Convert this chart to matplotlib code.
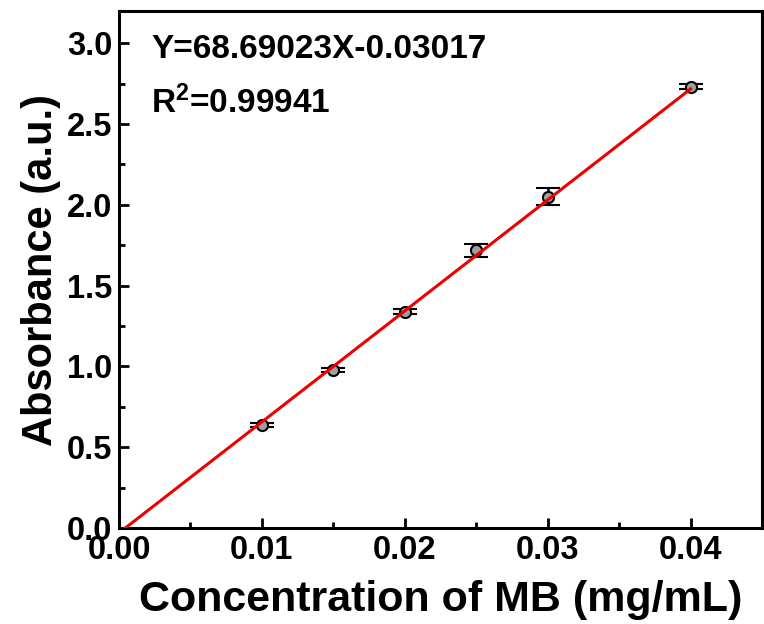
#!/usr/bin/env python3
import matplotlib
matplotlib.use('Agg')
import matplotlib.pyplot as plt
import numpy as np
from matplotlib.ticker import MultipleLocator, FormatStrFormatter

# calibration data
conc = [0.01, 0.015, 0.02, 0.025, 0.03, 0.04]
absorb = [0.637, 0.978, 1.338, 1.718, 2.050, 2.730]
err = [0.012, 0.012, 0.015, 0.040, 0.053, 0.015]
slope = 68.69023
intercept = -0.03017
eq_text = 'Y=68.69023X-0.03017'
r2_text = r'R$^\mathregular{2}$=0.99941'

plt.rcParams['font.family'] = ['Liberation Sans', 'DejaVu Sans']
plt.rcParams['font.weight'] = 'bold'
plt.rcParams['mathtext.default'] = 'regular'

fig = plt.figure(figsize=(7.64, 6.24), dpi=100)
ax = fig.add_axes([0.1558, 0.1538, 0.9974 - 0.1558, 0.9824 - 0.1538])

xfit = np.array([0.0, conc[-1]])
ax.plot(xfit, slope * xfit + intercept, color='#ee0000', lw=2.2, zorder=3)
ax.errorbar(conc, absorb, yerr=err, fmt='o', ms=8, mfc='#a0a0a0', mec='black',
            mew=1.5, ecolor='black', elinewidth=1.8, capsize=8.5, capthick=1.8, zorder=2)

ax.set_xlim(0, 0.045)
ax.set_ylim(0, 3.2)
ax.xaxis.set_major_locator(MultipleLocator(0.01))
ax.xaxis.set_minor_locator(MultipleLocator(0.005))
ax.yaxis.set_major_locator(MultipleLocator(0.5))
ax.yaxis.set_minor_locator(MultipleLocator(0.25))
ax.xaxis.set_major_formatter(FormatStrFormatter('%.2f'))
ax.yaxis.set_major_formatter(FormatStrFormatter('%.1f'))

for s in ax.spines.values():
    s.set_linewidth(2.2)
ax.tick_params(which='major', direction='in', length=7, width=2, labelsize=23.5, pad=5)
ax.tick_params(which='minor', direction='in', length=4, width=2)
ax.tick_params(top=False, right=False, which='both')

ax.set_xlabel('Concentration of MB (mg/mL)', fontsize=31, fontweight='bold', labelpad=10)
ax.set_ylabel('Absorbance (a.u.)', fontsize=30, fontweight='bold', labelpad=4)

ax.text(0.05, 0.955, eq_text, transform=ax.transAxes, fontsize=24, fontweight='bold', va='top')
ax.text(0.05, 0.855, r2_text, transform=ax.transAxes, fontsize=24, fontweight='bold', va='top')

fig.savefig('out.png', dpi=100)
